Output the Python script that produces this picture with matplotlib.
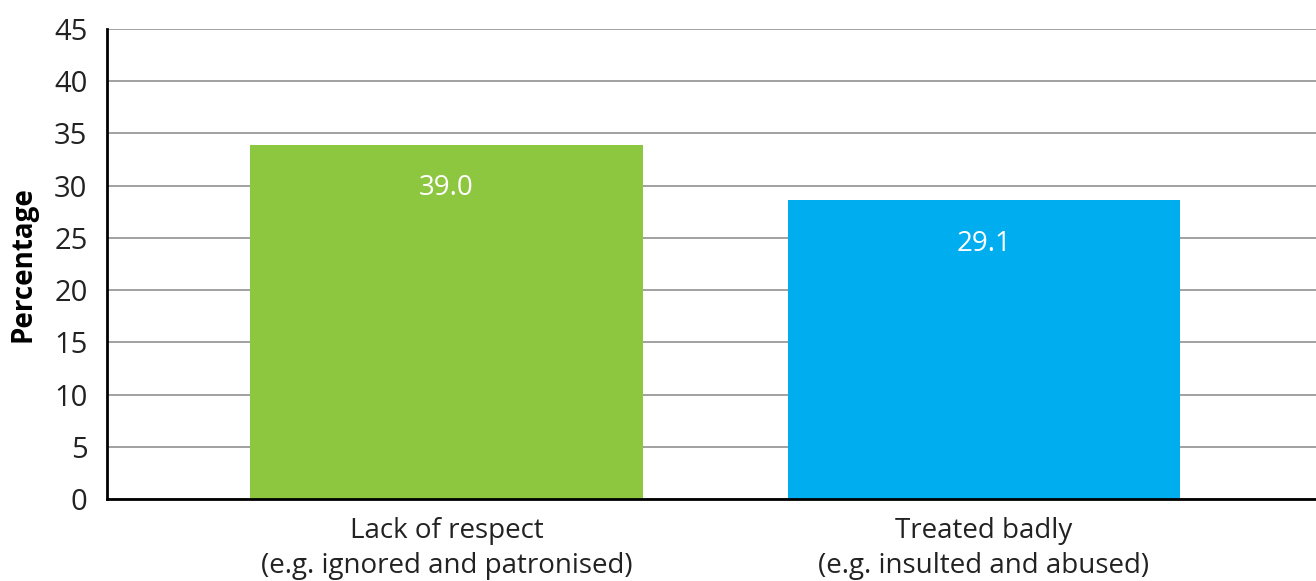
import matplotlib.pyplot as plt

# === data ===
categories = ["Lack of respect\n(e.g. ignored and patronised)",
              "Treated badly\n(e.g. insulted and abused)"]
bar_heights = [33.9, 28.6]
bar_labels = ["39.0", "29.1"]
bar_colors = ["#8dc63f", "#00aeef"]
yticks = [0, 5, 10, 15, 20, 25, 30, 35, 40, 45]

plt.rcParams['font.family'] = ['Open Sans', 'DejaVu Sans']

fig = plt.figure(figsize=(13.16, 5.81), dpi=100)
ax = fig.add_axes([107 / 1316, 82 / 581, 1 - 107 / 1316, 470 / 581])

x = list(range(len(categories)))
bars = ax.bar(x, bar_heights, width=0.731, color=bar_colors, zorder=3)

for b, lab in zip(bars, bar_labels):
    ax.text(b.get_x() + b.get_width() / 2, b.get_height() - 2.8, lab,
            ha='center', va='top', color='white', fontsize=20)

ax.set_xlim(-0.632, 1.618)
ax.set_ylim(0, 45)
ax.set_yticks(yticks)
ax.set_yticklabels([str(t) for t in yticks], fontsize=21, color='#222222')
ax.set_xticks(x)
ax.set_xticklabels(categories, fontsize=20, color='#222222', linespacing=1.35)
ax.tick_params(axis='both', length=0)
ax.tick_params(axis='y', pad=14)
ax.tick_params(axis='x', pad=13)

ax.grid(axis='y', color='#9a9a9a', linewidth=1.3, zorder=0)
for s in ['top', 'right']:
    ax.spines[s].set_visible(False)
ax.spines['left'].set_linewidth(2)
ax.spines['bottom'].set_linewidth(2)
ax.spines['left'].set_zorder(4)
ax.spines['bottom'].set_zorder(4)

ax.set_ylabel('Percentage', fontsize=20, fontweight='bold', labelpad=12)

plt.savefig('out.png', dpi=100)
